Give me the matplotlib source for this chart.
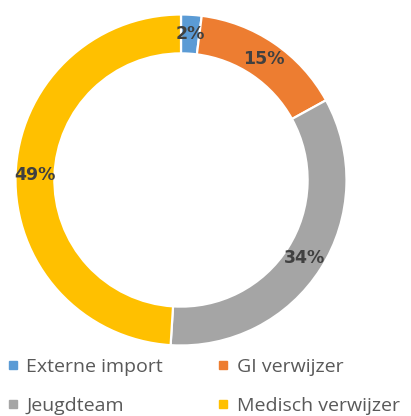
import matplotlib
matplotlib.use("Agg")
import matplotlib.pyplot as plt
from matplotlib.lines import Line2D

labels = ["Externe import", "GI verwijzer", "Jeugdteam", "Medisch verwijzer"]
values = [2, 15, 34, 49]
colors = ["#5B9BD5", "#ED7D31", "#A5A5A5", "#FFC000"]

W, H = 411, 416
fig = plt.figure(figsize=(W / 100, H / 100), dpi=100)
cx, cy, R = 181, 180, 165.5
ax = fig.add_axes([(cx - R) / W, (H - cy - R) / H, 2 * R / W, 2 * R / H])

wedges, texts, autotexts = ax.pie(
    values, colors=colors, startangle=90, counterclock=False, radius=1,
    autopct="%d%%", pctdistance=0.885,
    wedgeprops=dict(width=0.235, edgecolor="white", linewidth=1.6),
    textprops=dict(color="#404040", fontsize=12.5, fontweight="bold",
                   family="DejaVu Sans"),
    frame=True,
)
ax.set_xlim(-1, 1); ax.set_ylim(-1, 1)
ax.set_axis_off()

# legend filled row by row, like the original
order = [0, 2, 1, 3]
handles = [Line2D([], [], marker="s", linestyle="none", markersize=6,
                  markerfacecolor=colors[i], markeredgecolor=colors[i]) for i in order]
fig.legend(handles, [labels[i] for i in order], loc="upper left",
           bbox_to_anchor=(0.019, 0.139),
           ncol=2, frameon=False, labelcolor="#595959",
           handlelength=0.5, handletextpad=0.45, columnspacing=2.85,
           labelspacing=1.05, borderaxespad=0, borderpad=0.0,
           prop=dict(family="Open Sans", size=14))

fig.savefig("out.png", dpi=100)
